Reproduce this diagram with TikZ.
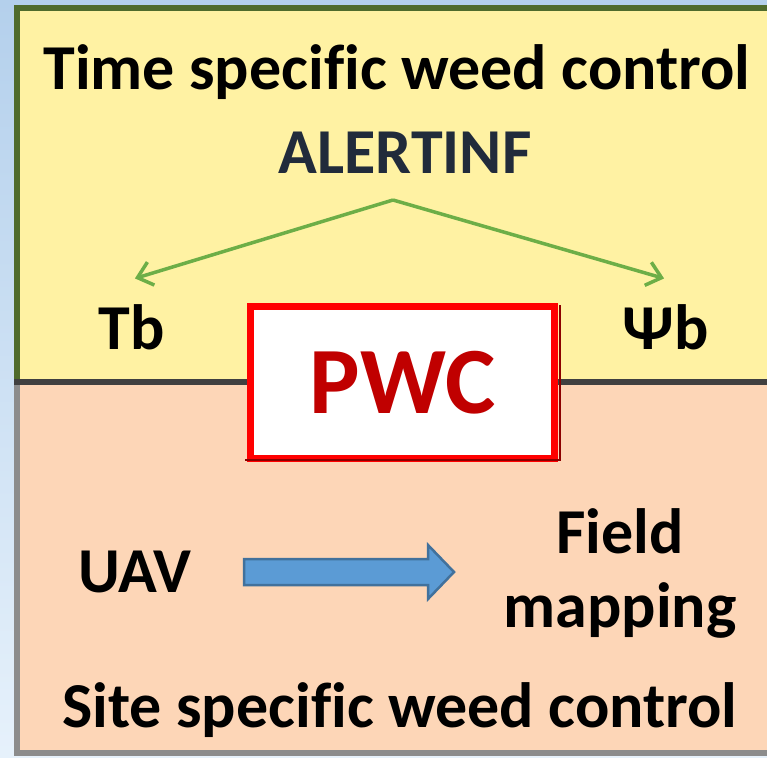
\documentclass[tikz,border=0pt]{standalone}
\usepackage{fontspec}
\setmainfont{Carlito}[Ligatures=NoCommon]
\usetikzlibrary{arrows.meta}
\definecolor{skytop}{HTML}{B4D0EC}
\definecolor{skybot}{HTML}{E6F1FB}
\definecolor{timefill}{HTML}{FFF2A3}
\definecolor{timeedge}{HTML}{4F6B2C}
\definecolor{sitefill}{HTML}{FDD6B7}
\definecolor{siteedge}{HTML}{8C8C8C}
\definecolor{alertblue}{HTML}{212B3B}
\definecolor{leafgreen}{HTML}{6DAE47}
\definecolor{pwcred}{HTML}{C00000}
\definecolor{uavfill}{HTML}{5B9BD5}
\definecolor{uavedge}{HTML}{41719C}
\tikzset{
  label/.style={font=\bfseries\fontsize{64}{70}\selectfont,inner sep=0pt,anchor=base},
  branch/.style={draw=leafgreen,line width=3.5pt,-{Straight Barb[length=14pt,width=24pt]},shorten >=2pt}
}
\begin{document}
\begin{tikzpicture}[x=1pt,y=-1pt]
            \useasboundingbox(0,0)rectangle(767,757);
            \shade[top color=skytop,bottom color=skybot](0,0)rectangle(767,757);
            % time specific part
            \fill[timefill](17,8)rectangle(780,380);
            \draw[timeedge,line width=6pt](17,380)--(17,8)--(780,8);
            % site specific part
            \fill[sitefill](17,384)rectangle(780,753);
            \draw[siteedge,line width=6pt](17,384)--(17,753)--(780,753);
            \draw[black!75,line width=6pt](14,381.5)--(780,381.5);
            \node[label]at(397,90)(timetitle){Time specific weed control};
            \node[label,text=alertblue]at(405,173)(alert){ALERTINF};
            \node[label]at(132,349)(tb){Tb};
            \node[label]at(666,349)(psib){Ψb};
            \coordinate(apex)at(393,200);
            \draw[branch](apex)--(133,279);
            \draw[branch](apex)--(666,279);
            \node[draw=red,line width=7pt,fill=white,minimum width=304pt,minimum height=152pt,inner sep=0pt,text=pwcred,font=\bfseries\fontsize{95}{100}\selectfont]at(402.5,382.5)(pwc){PWC};
            \draw[red!55!black,line width=2.5pt]([xshift=2pt,yshift=-2pt]pwc.north east)--([xshift=2pt,yshift=2pt]pwc.south east)--([xshift=-2pt,yshift=2pt]pwc.south west);
            \node[label]at(135,592)(uav){UAV};
            \node[label]at(620,553)(field){Field};
            \node[label]at(620,627)(mapping){mapping};
            \filldraw[fill=uavfill,draw=uavedge,line width=2.5pt](244,559)--(428,559)--(428,545)--(454,572)--(428,599)--(428,585)--(244,585)--cycle;
            \node[label]at(400,727)(sitetitle){Site specific weed control};
        \end{tikzpicture}
\end{document}
